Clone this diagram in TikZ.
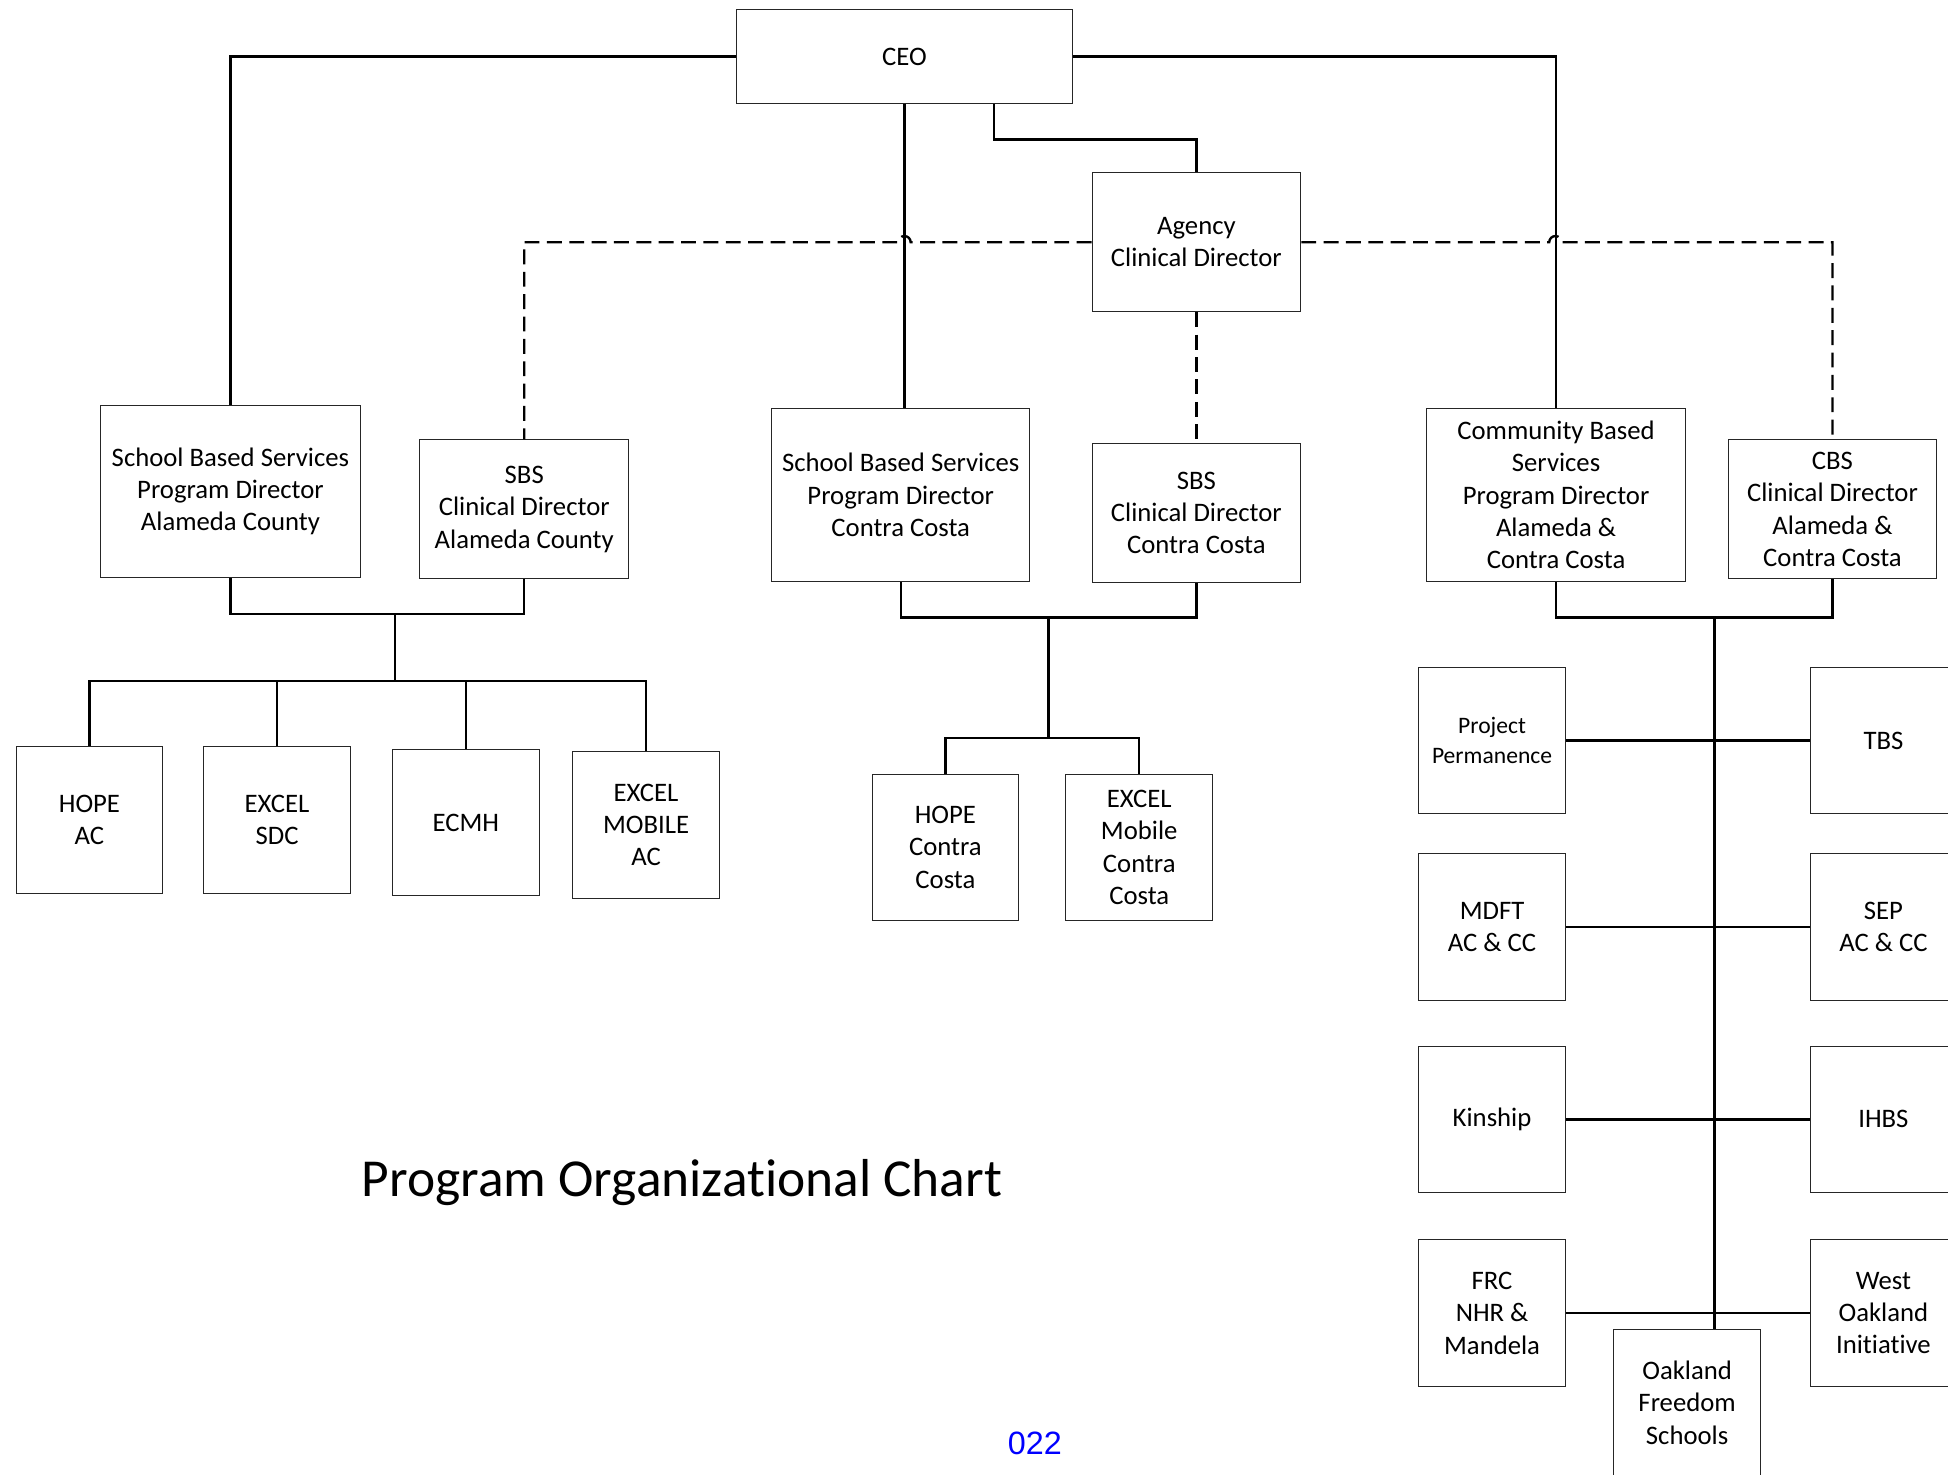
\documentclass[tikz,border=0pt]{standalone}
\usepackage{fontspec}
\setmainfont[Ligatures=NoCommon]{Carlito}
\newfontfamily\numfont{Liberation Sans}

\begin{document}
\begin{tikzpicture}[x=1pt, y=-1pt,
    box/.style={draw=black!85, line width=0.8pt, align=center, inner sep=0pt,
        font=\fontsize{21.5}{26}\selectfont},
    unit/.style={box, minimum width=118pt, minimum height=118pt},
    link/.style={line width=1.9pt},
    dashlink/.style={line width=1.9pt, dash pattern=on 12pt off 6pt}]
    \useasboundingbox (0,0) rectangle (1568,1187);

    \node[box, minimum width=270pt, minimum height=75pt] (ceo) at (728,45.5) {CEO};
    \node[box, minimum width=168pt, minimum height=112pt] (agency) at (963,195) {Agency\\Clinical Director};

    \node[box, minimum width=209pt, minimum height=139pt] (sbspdac) at (185.5,395.5) {School Based Services\\Program Director\\Alameda County};
    \node[box, minimum width=168pt, minimum height=112pt] (sbscdac) at (422,410) {SBS\\Clinical Director\\Alameda County};
    \node[box, minimum width=208pt, minimum height=139pt] (sbspdcc) at (725,398.5) {School Based Services\\Program Director\\Contra Costa};
    \node[box, minimum width=168pt, minimum height=112pt] (sbscdcc) at (963,413) {SBS\\Clinical Director\\Contra Costa};
    \node[box, minimum width=209pt, minimum height=139pt] (cbspd) at (1252.5,398.5) {Community Based\\Services\\Program Director\\Alameda \&\\Contra Costa};
    \node[box, minimum width=168pt, minimum height=112pt] (cbscd) at (1475,410) {CBS\\Clinical Director\\Alameda \&\\Contra Costa};

    % Alameda County programs
    \node[unit] (hopeac) at (72,660) {HOPE\\AC};
    \node[unit] (excelsdc) at (223,660) {EXCEL\\SDC};
    \node[unit] (ecmh) at (375,662) {ECMH};
    \node[unit] (excelmac) at (520,664) {EXCEL\\MOBILE\\AC};

    % Contra Costa programs
    \node[unit] (hopecc) at (761,682) {HOPE\\Contra\\Costa};
    \node[unit] (excelmcc) at (917,682) {EXCEL\\Mobile\\Contra\\Costa};

    % Community based programs
    \node[unit, font=\fontsize{19}{24}\selectfont] (projperm) at (1201,596) {Project\\Permanence};
    \node[unit] (tbs) at (1516,596) {TBS};
    \node[unit] (mdft) at (1201,746) {MDFT\\AC \& CC};
    \node[unit] (sep) at (1516,746) {SEP\\AC \& CC};
    \node[unit] (kinship) at (1201,901) {Kinship};
    \node[unit] (ihbs) at (1516,901) {IHBS};
    \node[unit] (frc) at (1201,1057) {FRC\\NHR \&\\Mandela};
    \node[unit] (westoak) at (1516,1057) {West\\Oakland\\Initiative};
    \node[unit] (ofs) at (1358,1129) {Oakland\\Freedom\\Schools};

    \node[font=\fontsize{43}{52}\selectfont] (title) at (549,952) {Program Organizational Chart};
    \node[font=\numfont\fontsize{26}{30}\selectfont, text=blue] (pagenum) at (833,1162) {022};

    % CEO lines
    \draw[link] (ceo.west) -| (sbspdac.north);
    \draw[link] (ceo.south) -- (ceo.south |- sbspdcc.north);
    \draw[link] ([xshift=72pt]ceo.south) -- ++(0,29) -| (agency.north);
    \draw[link] (ceo.east) -| (cbspd.north);

    % clinical lines
    \draw[dashlink] (agency.west) -- (733,195) arc[start angle=0, end angle=-180, radius=5] -| (sbscdac.north);
    \draw[dashlink] (agency.east) -- (1247,195) arc[start angle=180, end angle=360, radius=5] -| (cbscd.north);
    \draw[dashlink] (agency.south) -- (sbscdcc.north);

    \coordinate (acjoin) at (318,494);
    \coordinate (acbus) at (318,548);
    \draw[link] (sbspdac.south) |- (acjoin) -| (sbscdac.south);
    \draw[link] (acjoin) -- (acbus);
    \draw[link] (hopeac.north) |- (acbus) -| (excelmac.north);
    \foreach \n in {excelsdc,ecmh}
        \draw[link] (\n.north) -- (\n.north |- acbus);

    \coordinate (ccjoin) at (844,497);
    \coordinate (ccbus) at (844,594);
    \draw[link] (sbspdcc.south) |- (ccjoin) -| (sbscdcc.south);
    \draw[link] (ccjoin) -- (ccbus);
    \draw[link] (hopecc.north) |- (ccbus) -| (excelmcc.north);

    \coordinate (cbsjoin) at (1380,497);
    \draw[link] (cbspd.south) |- (cbsjoin) -| (cbscd.south);
    \draw[link] (cbsjoin) -- (cbsjoin |- ofs.north);
    \foreach \l/\r in {projperm/tbs, mdft/sep, kinship/ihbs, frc/westoak}
        \draw[link] (\l.east) -- (\r.west);
\end{tikzpicture}
\end{document}
